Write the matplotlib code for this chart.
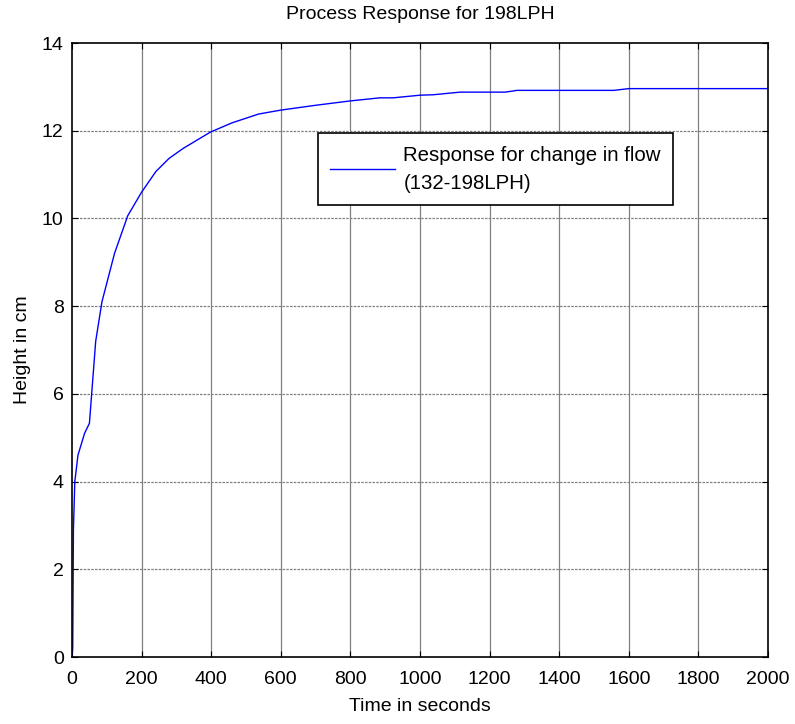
import matplotlib
matplotlib.use('Agg')
import matplotlib.pyplot as plt

plt.rcParams['font.family'] = ['Liberation Sans', 'DejaVu Sans']

# Data (time in s, height in cm)
time_s = [0, 2, 4, 8, 17, 36, 50, 68, 86, 122, 160, 200, 241, 279, 320, 398,
          460, 536, 600, 700, 800, 885, 923, 1000, 1038, 1115, 1245, 1279,
          1557, 1600, 2000]
height_cm = [0.0, 0.2, 2.9, 4.0, 4.6, 5.1, 5.33, 7.2, 8.1, 9.2, 10.06, 10.6,
             11.07, 11.37, 11.6, 11.97, 12.18, 12.38, 12.47, 12.58, 12.68,
             12.75, 12.75, 12.81, 12.82, 12.88, 12.88, 12.92, 12.92, 12.96,
             12.96]
x_ticks = list(range(0, 2001, 200))
y_ticks = list(range(0, 15, 2))

fs = 14

fig = plt.figure(figsize=(7.95, 7.24), dpi=100)
ax = fig.add_axes([0.0906, 0.0925, 0.8754, 0.8481])

ax.plot(time_s, height_cm, color='#0000ff', lw=1.0,
        label='Response for change in flow\n(132-198LPH)')

ax.set_xlim(0, 2000)
ax.set_ylim(0, 14)
ax.set_xticks(x_ticks)
ax.set_yticks(y_ticks)

# matlab-ish grid
for x in x_ticks[1:-1]:
    ax.axvline(x, color='#808080', lw=0.9, zorder=0)
for y in y_ticks[1:-1]:
    ax.axhline(y, color='#808080', lw=0.9, ls=(0, (2, 1)), zorder=0)

ax.tick_params(direction='in', top=True, right=True, labelsize=fs, length=4)
ax.tick_params(axis='x', pad=10)
ax.tick_params(axis='y', pad=6)
for s in ax.spines.values():
    s.set_linewidth(1.2)

ax.set_title('Process Response for 198LPH', fontsize=fs, pad=17)
ax.set_xlabel('Time in seconds', fontsize=fs, labelpad=7)
ax.set_ylabel('Height in cm', fontsize=fs, labelpad=8)

leg = ax.legend(loc='upper left', bbox_to_anchor=(0.353, 0.853), fontsize=14.7,
                fancybox=False, framealpha=1, edgecolor='black',
                handlelength=3.2, handletextpad=0.4, borderpad=0.6,
                borderaxespad=0)
leg.get_frame().set_linewidth(1.2)
for t in leg.get_texts():
    t.set_linespacing(1.6)

fig.savefig('out.png', dpi=100)
